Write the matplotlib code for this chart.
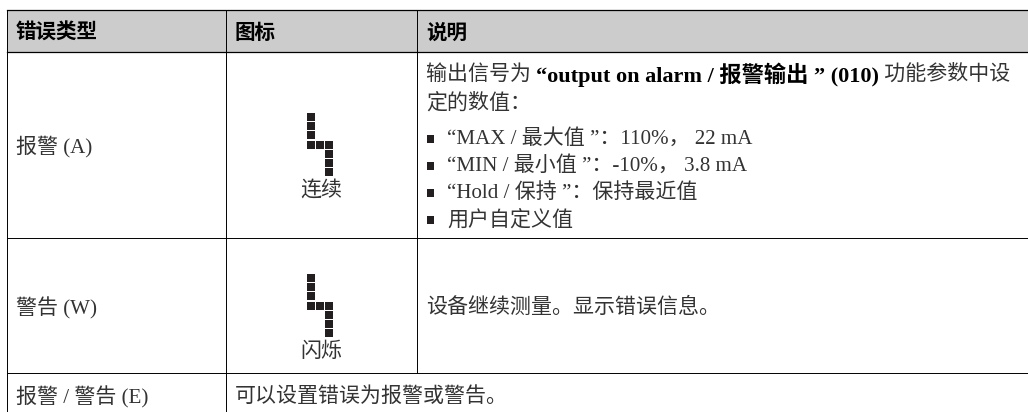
import matplotlib
matplotlib.use('Agg')
import matplotlib.pyplot as plt
from matplotlib.patches import Rectangle

W, H = 1028, 412

headers = ['错误类型', '图标', '说明']
row_types = ['报警 (A)', '警告 (W)', '报警 / 警告 (E)']
icon_labels = ['连续', '闪烁']
desc_line1 = [('输出信号为 ', 'normal'), ('“output on alarm / 报警输出 ” (010)', 'bold'), (' 功能参数中设', 'normal')]
desc_line2 = '定的数值：'
bullets = ['“MAX / 最大值 ”：110%， 22 mA', '“MIN / 最小值 ”：-10%， 3.8 mA', '“Hold / 保持 ”：保持最近值', '用户自定义值']
warn_desc = '设备继续测量。显示错误信息。'
both_desc = '可以设置错误为报警或警告。'

# lit cells of the icon (column, row)
icon_cells = [(0, 0), (0, 1), (0, 2), (0, 3), (1, 3), (2, 3), (2, 4), (2, 5), (2, 6)]

plt.rcParams['font.family'] = ['Liberation Serif', 'Noto Sans CJK SC']

fig = plt.figure(figsize=(W / 100, H / 100), dpi=100)
ax = fig.add_axes([0, 0, 1, 1])
ax.set_xlim(0, W)
ax.set_ylim(H, 0)
ax.axis('off')

left, col1, col2, right = 7.3, 225.7, 416.7, 1028
top, head, row1, row2, bottom = 9.5, 52.3, 238.3, 373.3, 412

ax.add_patch(Rectangle((left, top), right - left, head - top, color='#cccccc', lw=0))

for y in [top, head]:
    ax.plot([left, right], [y, y], color='black', lw=0.9)
for y in [row1, row2]:
    ax.plot([left, right], [y, y], color='black', lw=0.7)
ax.plot([left, left], [top, bottom], color='black', lw=0.7)
ax.plot([col1, col1], [top, bottom], color='black', lw=0.7)
ax.plot([col2, col2], [top, row2], color='black', lw=0.7)

for x, s in zip([16, 234.5, 426], headers):
    ax.text(x, 32, s, fontsize=14.8, fontweight='bold', va='center', family=['Noto Sans CJK SC'], color='black')

txt = dict(fontsize=15.1, va='center', color='#333333')
for y, s in zip([147, 308, 397], row_types):
    ax.text(16, y, s, **txt)

for y0, ylab, s in zip([113, 274], [191, 352], icon_labels):
    for c, r in icon_cells:
        ax.add_patch(Rectangle((307 + c * 9.2, y0 + r * 9.2), 8, 8, color='#231f20', lw=0))
    ax.text(321, ylab, s, ha='center', **txt)

# first description line has bold text in the middle
x = 426
y = 75
rend = fig.canvas.get_renderer()
for s, w in desc_line1:
    kw = dict(txt)
    if w == 'bold':
        kw.update(fontsize=16, color='black')
    t = ax.text(x, y, s, fontweight=w, **kw)
    x += t.get_window_extent(rend).width
ax.text(426, 103, desc_line2, **txt)

for y, s in zip([139, 166, 193, 220], bullets):
    ax.add_patch(Rectangle((427, y - 3.7), 7.4, 7.4, color='#231f20', lw=0))
    ax.text(447, y, s, **txt)

ax.text(426, 308, warn_desc, **txt)
ax.text(234.5, 397, both_desc, **txt)

fig.savefig('out.png', dpi=100)
